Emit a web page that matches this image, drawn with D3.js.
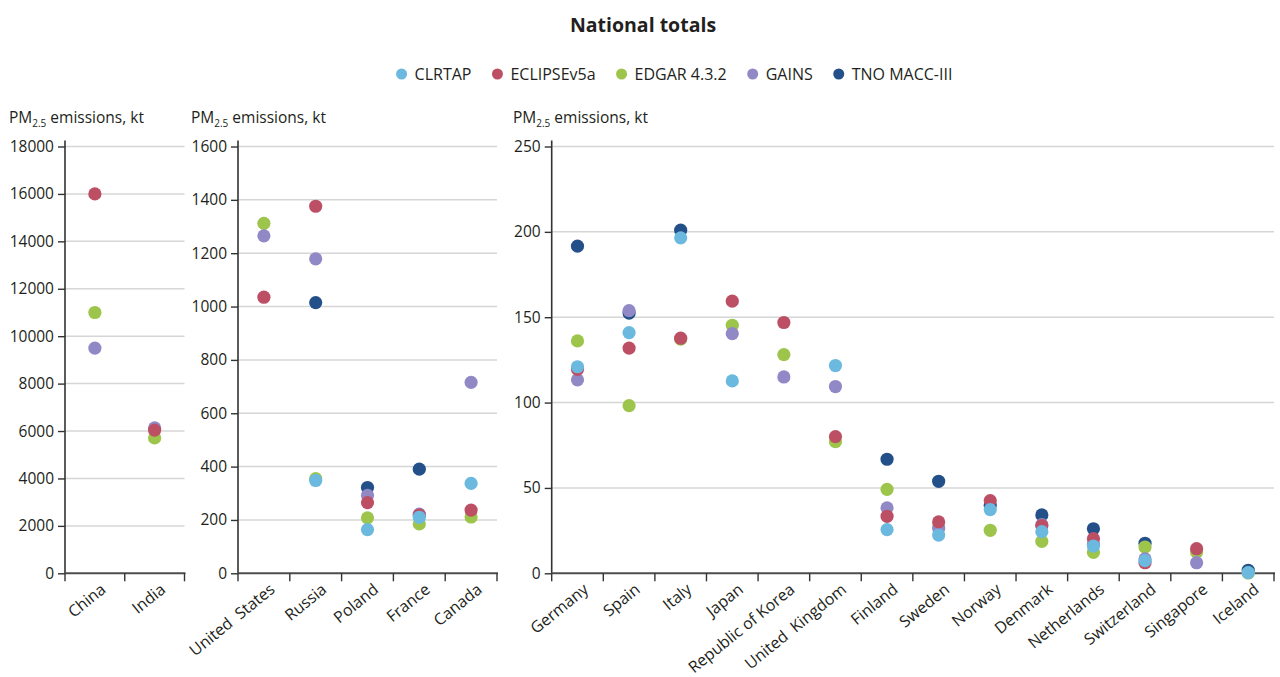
<!DOCTYPE html>
<html><head><meta charset="utf-8">
<script src="https://cdn.jsdelivr.net/npm/d3@7"></script>
<style>
body{margin:0;background:#fff;}
text{font-family:"Open Sans",sans-serif;fill:#231f20;}
</style></head>
<body><svg id="c" width="1280" height="677"></svg>
<script>
const title = "National totals";
const seriesNames = ["CLRTAP","ECLIPSEv5a","EDGAR 4.3.2","GAINS","TNO MACC-III"];
const seriesColors = ["#6cb9e0","#bd4f65","#9dc54c","#9189c6","#24508a"];
const countriesA = ["China","India"];
const countriesB = ["United  States","Russia","Poland","France","Canada"];
const countriesC = ["Germany","Spain","Italy","Japan","Republic of Korea","United  Kingdom","Finland","Sweden","Norway","Denmark","Netherlands","Switzerland","Singapore","Iceland"];
const ticksA = [0,2000,4000,6000,8000,10000,12000,14000,16000,18000];
const ticksB = [0,200,400,600,800,1000,1200,1400,1600];
const ticksC = [0,50,100,150,200,250];
// values in country order: A then B then C
const clrtap  = [null,null, null,348,164,210,337, 121,141,196.5,112.7,null,121.7,25.6,22.4,37.3,24.4,16.0,7.4,null,0.4];
const eclipse = [16000,6040, 1035,1376,265,218,237, 119.5,131.9,137.7,159.4,146.9,80.1,33.4,30.1,42.6,27.9,20.3,6.2,14.4,null];
const edgar   = [11000,5710, 1312,355,208,185,211, 136.1,98.2,137.2,145.3,128.1,77.1,49.2,null,25.2,18.7,12.3,15.4,12.5,0.2];
const gains   = [9500,6130, 1265,1179,292,222,716, 113.3,153.9,null,140.4,115.0,109.4,38.3,26.4,null,28.5,17.0,8.4,6.2,null];
const tno     = [null,null, null,1015,321.5,390.5,null, 191.6,152.4,201,null,null,null,66.8,53.9,39.8,34.2,26.1,17.6,null,1.8];
const seriesValues = [clrtap,eclipse,edgar,gains,tno];
const drawOrder = [4,2,3,1,0];

const svg = d3.select("#c");
const yBottom = 573.3, yTop = 146.5;

svg.append("text").attr("x",643).attr("y",32).attr("text-anchor","middle")
  .style("font-weight","700").style("font-size","19.5px").text(title);

// legend
const leg = svg.append("g").attr("transform","translate(0,74)");
let lx = 0;
const items = [];
seriesNames.forEach((n,i)=>{
  const g = leg.append("g");
  g.append("circle").attr("cx",0).attr("cy",0).attr("r",5.5).attr("fill",seriesColors[i]);
  const t = g.append("text").attr("x",13).attr("y",5.5).style("font-size","16px").text(n);
  const w = 13 + t.node().getComputedTextLength();
  items.push({g,x:lx});
  lx += w + 26;
});
const totalW = lx - 26;
const startX = 672 - totalW/2 + 5;
items.forEach(it=>it.g.attr("transform",`translate(${startX+it.x},0)`));

const panels = [
  {cats:countriesA, off:0, x0:65, x1:184.5, ticks:ticksA, labelX:9},
  {cats:countriesB, off:2, x0:238, x1:497, ticks:ticksB, labelX:191},
  {cats:countriesC, off:7, x0:551.7, x1:1274, ticks:ticksC, labelX:513}
];

panels.forEach(p=>{
  const g = svg.append("g");
  const x = d3.scaleBand().domain(p.cats).range([p.x0,p.x1]).padding(0);
  const y = d3.scaleLinear().domain([0,p.ticks[p.ticks.length-1]]).range([yBottom,yTop]);
  // y label
  const lab = g.append("text").attr("x",p.labelX).attr("y",123).style("font-size","15.5px");
  lab.append("tspan").text("PM");
  lab.append("tspan").attr("dy",4).style("font-size","10px").text("2.5");
  lab.append("tspan").attr("dy",-4).text(" emissions, kt");
  // grid
  g.selectAll(".grid").data(p.ticks.filter(d=>d>0)).join("line")
    .attr("x1",p.x0).attr("x2",p.x1).attr("y1",d=>y(d)).attr("y2",d=>y(d))
    .attr("stroke","#d6d6d6").attr("stroke-width",1.5);
  // y axis
  const ya = g.append("g").attr("transform",`translate(${p.x0},0)`)
    .call(d3.axisLeft(y).tickValues(p.ticks).tickSize(7).tickSizeOuter(0).tickPadding(4).tickFormat(d3.format("d")));
  ya.select(".domain").attr("stroke","#333").attr("stroke-width",1.6).attr("d",`M0,${yTop-6}V${yBottom}`);
  ya.selectAll(".tick line").attr("stroke","#333").attr("stroke-width",1.4);
  ya.selectAll(".tick text").style("font-family","'Open Sans',sans-serif").style("font-size","15.5px").attr("fill","#231f20");
  // x axis
  const xa = g.append("g");
  xa.append("line").attr("x1",p.x0).attr("x2",p.x1+1).attr("y1",yBottom).attr("y2",yBottom)
    .attr("stroke","#4d4d4d").attr("stroke-width",2);
  const bounds = p.cats.map(c=>x(c)).concat([p.x1]);
  xa.selectAll(".tk").data(bounds).join("line")
    .attr("x1",d=>d).attr("x2",d=>d).attr("y1",yBottom).attr("y2",yBottom+8)
    .attr("stroke","#333").attr("stroke-width",1.4);
  xa.selectAll(".lbl").data(p.cats).join("text")
    .attr("transform",d=>`translate(${x(d)+x.bandwidth()/2+12},${yBottom+18}) rotate(-39)`)
    .attr("text-anchor","end").style("font-size","16px").style("white-space","pre")
    .text(d=>d);
  // dots
  drawOrder.forEach(si=>{
    const vals = seriesValues[si].slice(p.off, p.off+p.cats.length);
    const pts = p.cats.map((c,i)=>({c,v:vals[i]})).filter(d=>d.v!=null);
    g.selectAll(null).data(pts).join("circle")
      .attr("cx",d=>x(d.c)+x.bandwidth()/2).attr("cy",d=>y(d.v))
      .attr("r",6.6).attr("fill",seriesColors[si]);
  });
});
</script></body></html>
